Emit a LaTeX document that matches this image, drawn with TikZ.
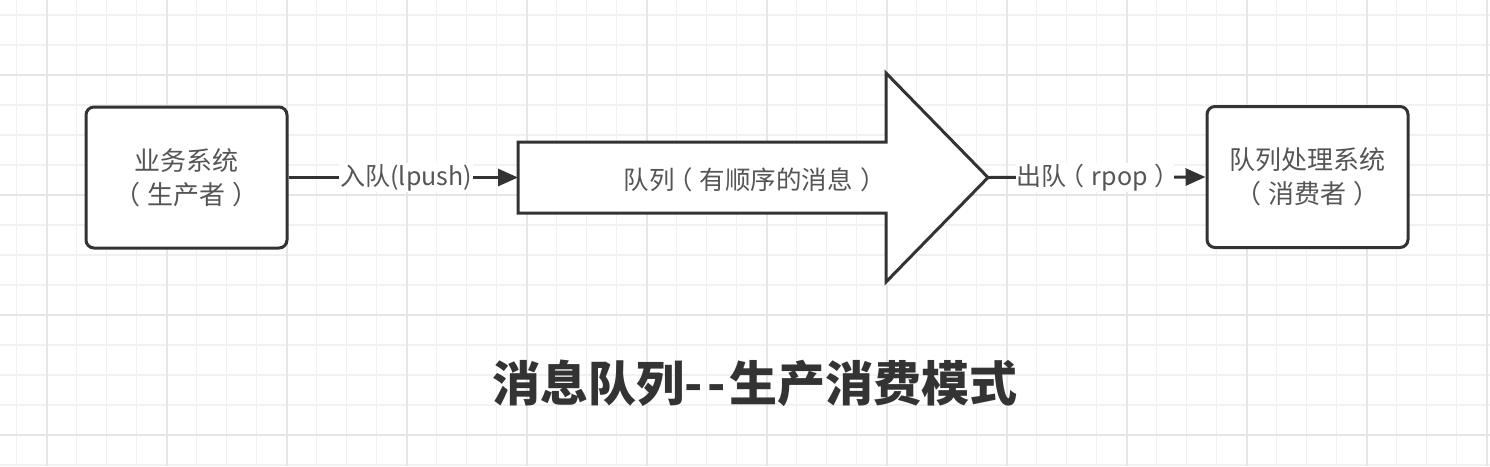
\documentclass[tikz,border=0pt]{standalone}
\usepackage{fontspec}
\setmainfont{Noto Sans CJK SC}
\usetikzlibrary{arrows.meta}
\definecolor{gridminor}{HTML}{F1F1F1}
\definecolor{gridmajor}{HTML}{E6E6E6}
\definecolor{edge}{HTML}{333333}
\definecolor{txt}{HTML}{555555}
% full-width parentheses with the glyph centred in its cell
\newcommand\zlp{\makebox[1em][l]{\hspace{-0.28em}（}}
\newcommand\zrp{\makebox[1em][l]{\hspace{0.28em}）}}
\newcommand\zhy{\hbox{-}\kern0.08em}
\tikzset{
  minorline/.style={draw=gridminor, line width=1.2pt},
  majorline/.style={draw=gridmajor, line width=1.6pt},
  sysbox/.style={draw=edge, line width=3pt, fill=white, rounded corners=8pt,
    minimum width=201pt, minimum height=141pt, align=center, text=txt,
    font=\fontsize{26}{34}\selectfont},
  qshape/.style={draw=edge, line width=3pt, fill=white, line join=miter},
  conn/.style={draw=edge, line width=3pt, -{Triangle[length=20pt,width=17pt]}},
  lbl/.style={fill=white, text=txt, inner sep=1pt, font=\fontsize{25}{30}\selectfont},
  qtext/.style={text=txt, font=\fontsize{25.5}{30}\selectfont},
  titletext/.style={text=edge, font=\fontsize{48}{54}\selectfont\bfseries}
}
\begin{document}
\begin{tikzpicture}[x=1pt,y=-1pt]
\useasboundingbox[fill=white] (0,0) rectangle (1490,466);
% grid
\foreach \i in {0,...,49} {
  \draw[minorline] ({16.7+30*\i},0) -- ({16.7+30*\i},466);
}
\foreach \j in {0,...,15} {
  \draw[minorline] (0,{15+30*\j}) -- (1490,{15+30*\j});
}
\foreach \i in {0,...,12} {
  \draw[majorline] ({46.7+120*\i},0) -- ({46.7+120*\i},466);
}
\foreach \j in {0,...,3} {
  \draw[majorline] (0,{75+120*\j}) -- (1490,{75+120*\j});
}
% producer
\node[sysbox] (prod) at (186.5,177.5) {业务系统\\\zlp 生产者\zrp};
% queue arrow
\coordinate (qin) at (518,177.5);
\coordinate (qout) at (988,177.5);
\draw[qshape] (518,142) -- (886,142) -- (886,73) -- (qout) -- (886,282) -- (886,213) -- (518,213) -- cycle;
\node[qtext] (queue) at (751,180) {队列\zlp 有顺序的消息\zrp};
% consumer
\node[sysbox] (cons) at (1307.5,177) {队列处理系统\\\zlp 消费者\zrp};
% connectors
\draw[conn] (prod.east) -- node[lbl, xshift=3pt] (enq) {入队(lpush)} (qin);
\draw[conn] (qout) -- node[lbl, xshift=-2pt] (deq) {出队\zlp rpop\zrp} (cons.west);
% title
\node[titletext] (title) at (755,383) {消息队列\zhy\zhy 生产消费模式};
\end{tikzpicture}
\end{document}
